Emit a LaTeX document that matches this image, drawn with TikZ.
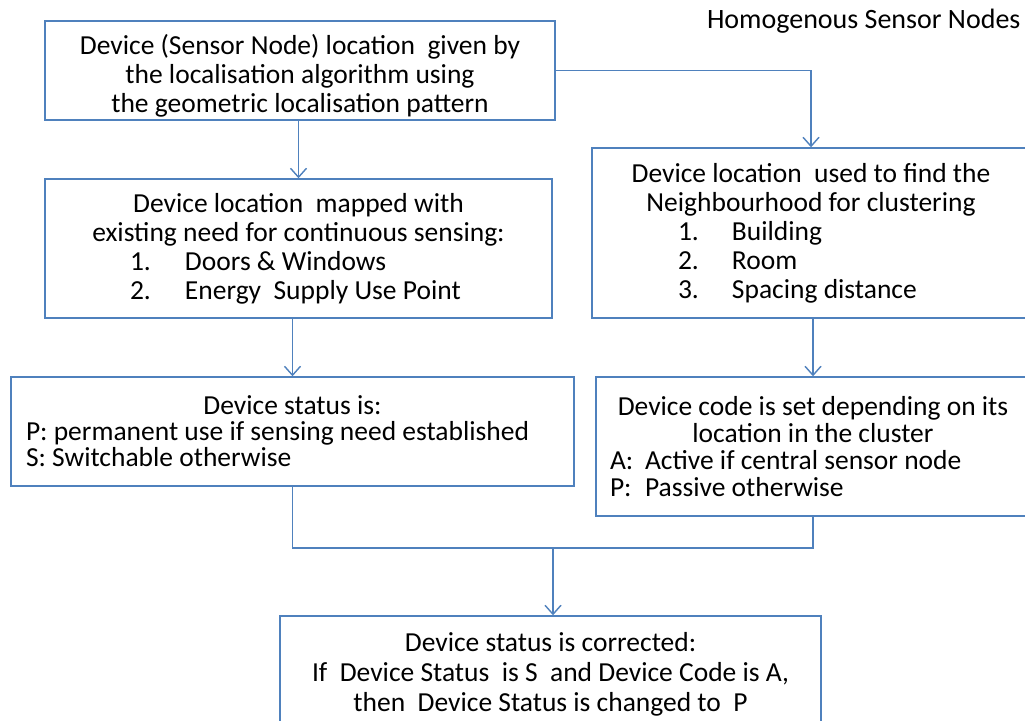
\documentclass[tikz,border=0pt]{standalone}
\usepackage{fontspec}
\setmainfont{Carlito}
\usepackage{tikz}
\usetikzlibrary{arrows.meta}

\definecolor{boxblue}{RGB}{79,129,189}
\newcommand{\numline}[4]{\makebox[#1][l]{\makebox[#2][l]{#3}#4}}

\begin{document}
\begin{tikzpicture}[x=1pt,y=-1pt]
\tikzset{
  flowbox/.style={draw=boxblue, line width=1.4pt, rectangle, inner sep=0pt, align=center,
    font=\fontsize{27.5}{29}\selectfont},
  flowline/.style={draw=boxblue, line width=1.4pt},
  flowarrow/.style={flowline, -{Straight Barb[length=9pt,width=16pt,line width=1.4pt]}}
}
\clip (0,0) rectangle (1025,720);
\fill[white] (0,0) rectangle (1025,720);
\node[font=\fontsize{28}{29}\selectfont, anchor=base east] (title) at (1024,28) {Homogenous Sensor Nodes};
\node[flowbox, minimum width=510pt, minimum height=99pt] (locate) at (300,70.5)
  {\rule{0pt}{30pt}Device (Sensor Node) location\ \ given by\\ the localisation algorithm using\\ the geometric localisation pattern};
\node[flowbox, minimum width=507pt, minimum height=139pt] (mapped) at (298.5,248.5)
  {Device location\ \ mapped with\\ existing need for continuous sensing:\\
   \numline{337pt}{55pt}{1.}{Doors \& Windows}\\
   \numline{337pt}{55pt}{2.}{Energy\ \ Supply Use Point}};
\node[flowbox, minimum width=438pt, minimum height=170pt] (neighbour) at (811,233)
  {Device location\ \ used to find the\\ Neighbourhood for clustering\\
   \numline{266pt}{54pt}{1.}{Building}\\
   \numline{266pt}{54pt}{2.}{Room}\\
   \numline{266pt}{54pt}{3.}{Spacing distance}};
\node[flowbox, minimum width=563pt, minimum height=109pt, font=\fontsize{27.5}{26}\selectfont] (status) at (292.5,431.5)
  {Device status is:\\
   \numline{533pt}{0pt}{}{P: permanent use if sensing need established}\\
   \numline{533pt}{0pt}{}{S: Switchable otherwise}};
\node[flowbox, minimum width=434pt, minimum height=139pt, font=\fontsize{27.5}{27}\selectfont] (code) at (813,446.5)
  {Device code is set depending on its\\ location in the cluster\\
   \numline{406pt}{35pt}{A:}{Active if central sensor node}\\
   \numline{406pt}{35pt}{P:}{Passive otherwise}};
\node[flowbox, minimum width=541pt, minimum height=116pt, font=\fontsize{27.5}{30}\selectfont] (corrected) at (550.5,674)
  {Device status is corrected:\\ If\ \ Device Status\ \ is S\ \ and Device Code is A,\\ then\ \ Device Status is changed to\ \ P};
\coordinate (join) at (553,548);
% arrows between the boxes
\draw[flowarrow] (mapped.north |- locate.south) -- (mapped.north);
\draw[flowarrow] (locate.east) -| (neighbour.north);
\draw[flowarrow] (status.north |- mapped.south) -- (status.north);
\draw[flowarrow] (code.north |- neighbour.south) -- (code.north);
\draw[flowline] (status.south) |- (join) -| (code.south);
\draw[flowarrow] (join) -- (join |- corrected.north);
\end{tikzpicture}
\end{document}
